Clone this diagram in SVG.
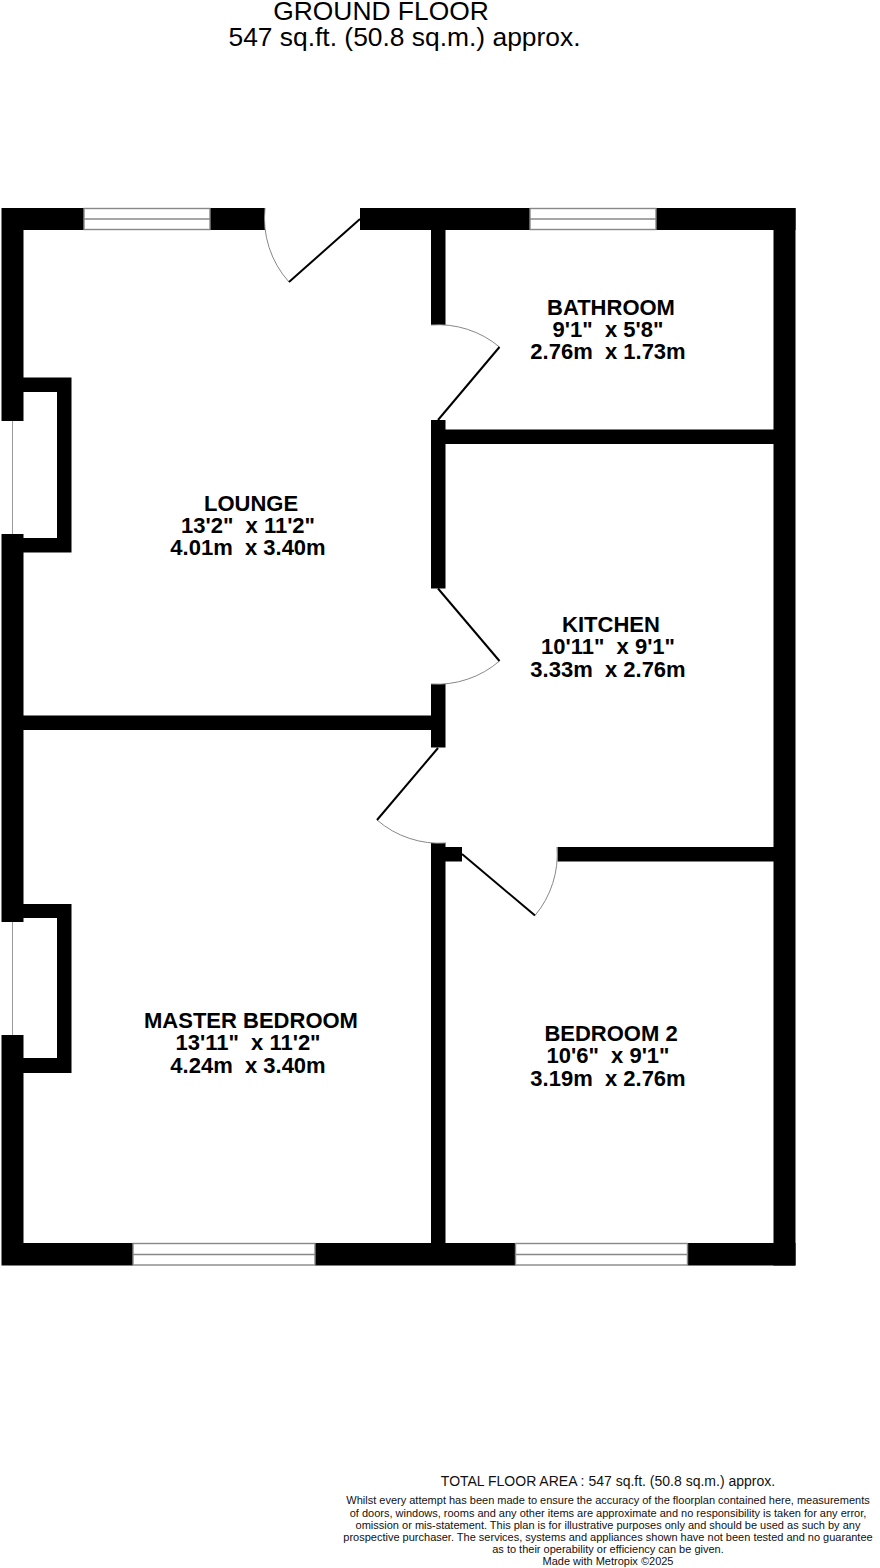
<svg xmlns="http://www.w3.org/2000/svg" width="880" height="1568" viewBox="0 0 880 1568">
<style>
text{font-family:"Liberation Sans",Arial,sans-serif;fill:#000;text-anchor:middle}
.h{font-size:26.400px}
.r{font-size:22px;font-weight:bold}
.t{font-size:14px;fill:#111}
.s{font-size:11px;fill:#111}
.wall{fill:#000}
.win{fill:#fff;stroke:#888;stroke-width:1.400}
.arc{fill:none;stroke:#888;stroke-width:1}
.leaf{fill:none;stroke:#000;stroke-width:2}
.thin{fill:none;stroke:#999;stroke-width:1}
.mid{fill:none;stroke:#888;stroke-width:1.400}
</style>
<rect width="880" height="1568" fill="#fff"/>
<g id="header">
<text class="h" x="381" y="20">GROUND FLOOR</text>
<text class="h" x="404.500" y="46">547 sq.ft. (50.8 sq.m.) approx.</text>
</g>
<g id="walls">
<path class="wall" d="M1.500 208H84V230H23.500V377.500H71.500V552.500H23.500V715.500H431V684H445.500V747.500H431V730H23.500V904H71.500V1073H23.500V1243H133V1265.500H1.500V1035H23.500V1058H57V918H23.500V922H1.500V534H23.500V538H57V392H23.500V421H1.500Z"/>
<rect class="wall" x="210" y="208" width="55" height="22"/>
<rect class="wall" x="360" y="208" width="170" height="22"/>
<rect class="wall" x="656" y="208" width="139.500" height="22"/>
<rect class="wall" x="431" y="208" width="14.500" height="117"/>
<rect class="wall" x="431" y="420" width="14.500" height="168.500"/>
<rect class="wall" x="445" y="429.500" width="330" height="14.500"/>
<rect class="wall" x="773.500" y="208" width="22" height="1057.500"/>
<rect class="wall" x="431" y="843" width="14.500" height="400"/>
<rect class="wall" x="445" y="847" width="17" height="14.500"/>
<rect class="wall" x="557.500" y="847" width="217" height="14.500"/>
<rect class="wall" x="315" y="1243" width="200.500" height="22.500"/>
<rect class="wall" x="687.500" y="1243" width="108" height="22.500"/>
</g>
<g id="windows">
<g id="window-lounge"><rect class="win" x="84" y="208.500" width="126" height="21"/><line class="mid" x1="84" y1="219" x2="210" y2="219"/></g>
<g id="window-bathroom"><rect class="win" x="530" y="208.500" width="126" height="21"/><line class="mid" x1="530" y1="219" x2="656" y2="219"/></g>
<g id="window-master"><rect class="win" x="133" y="1243.500" width="182" height="21.500"/><line class="mid" x1="133" y1="1254.500" x2="315" y2="1254.500"/></g>
<g id="window-bedroom2"><rect class="win" x="515.500" y="1243.500" width="172" height="21.500"/><line class="mid" x1="515.500" y1="1254.500" x2="687.500" y2="1254.500"/></g>
<line class="thin" x1="12.500" y1="421" x2="12.500" y2="534"/>
<line class="thin" x1="12.500" y1="922" x2="12.500" y2="1035"/>
</g>
<g id="doors">
<g id="door-entrance"><path class="arc" d="M265 208A95.600 95.600 0 0 0 289 282"/><line class="leaf" x1="289" y1="282" x2="360" y2="219"/></g>
<g id="door-bathroom"><path class="arc" d="M431 325A95.500 95.500 0 0 1 499.500 347"/><line class="leaf" x1="499.500" y1="347" x2="438" y2="420"/></g>
<g id="door-kitchen"><path class="arc" d="M431 684A95.500 95.500 0 0 0 499.500 661"/><line class="leaf" x1="499.500" y1="661" x2="438" y2="588.500"/></g>
<g id="door-master"><path class="arc" d="M446 843A95.500 95.500 0 0 1 377 820"/><line class="leaf" x1="377" y1="820" x2="438" y2="748"/></g>
<g id="door-bedroom2"><path class="arc" d="M557 847A95.500 95.500 0 0 1 535 915.500"/><line class="leaf" x1="535" y1="915.500" x2="462" y2="854"/></g>
</g>
<g id="lounge"><text class="r" x="251" y="510.500">LOUNGE</text><text class="r" x="248" y="533" xml:space="preserve">13'2"  x 11'2"</text><text class="r" x="248" y="555" xml:space="preserve">4.01m  x 3.40m</text></g>
<g id="bathroom"><text class="r" x="611" y="315">BATHROOM</text><text class="r" x="608" y="337" xml:space="preserve">9'1"  x 5'8"</text><text class="r" x="608" y="359" xml:space="preserve">2.76m  x 1.73m</text></g>
<g id="kitchen"><text class="r" x="611" y="632">KITCHEN</text><text class="r" x="608" y="654" xml:space="preserve">10'11"  x 9'1"</text><text class="r" x="608" y="677" xml:space="preserve">3.33m  x 2.76m</text></g>
<g id="master-bedroom"><text class="r" x="251" y="1028">MASTER BEDROOM</text><text class="r" x="248" y="1050" xml:space="preserve">13'11"  x 11'2"</text><text class="r" x="248" y="1073" xml:space="preserve">4.24m  x 3.40m</text></g>
<g id="bedroom-2"><text class="r" x="611" y="1041">BEDROOM 2</text><text class="r" x="608" y="1063" xml:space="preserve">10'6"  x 9'1"</text><text class="r" x="608" y="1085.500" xml:space="preserve">3.19m  x 2.76m</text></g>
<g id="footer">
<text class="t" x="608" y="1486">TOTAL FLOOR AREA : 547 sq.ft. (50.8 sq.m.) approx.</text>
<text class="s" x="608" y="1504">Whilst every attempt has been made to ensure the accuracy of the floorplan contained here, measurements</text>
<text class="s" x="608" y="1516.500">of doors, windows, rooms and any other items are approximate and no responsibility is taken for any error,</text>
<text class="s" x="608" y="1529">omission or mis-statement. This plan is for illustrative purposes only and should be used as such by any</text>
<text class="s" x="608" y="1541">prospective purchaser. The services, systems and appliances shown have not been tested and no guarantee</text>
<text class="s" x="608" y="1553">as to their operability or efficiency can be given.</text>
<text class="s" x="608" y="1565">Made with Metropix ©2025</text>
</g>
</svg>
